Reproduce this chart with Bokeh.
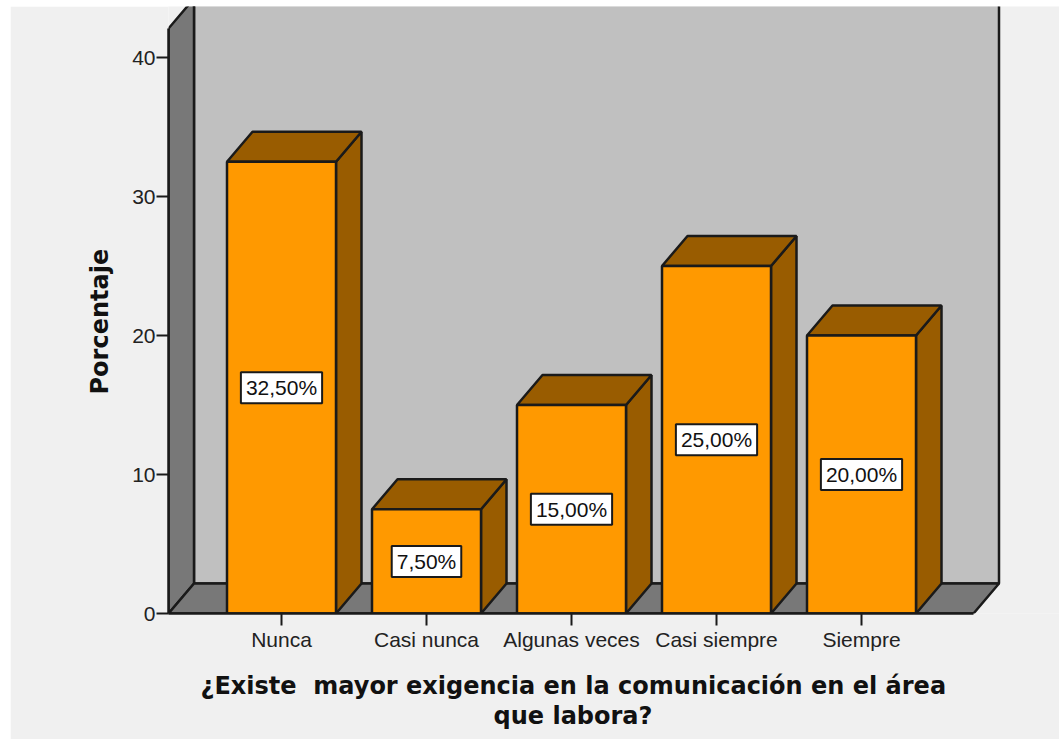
from bokeh.embed import file_html
from bokeh.resources import INLINE
from bokeh.plotting import figure
from bokeh.models import ColumnDataSource, FixedTicker, Range1d, Title
from bokeh.core.properties import value

categories = ["Nunca", "Casi nunca", "Algunas veces", "Casi siempre", "Siempre"]
percentages = [32.5, 7.5, 15.0, 25.0, 20.0]
y_ticks = [0, 10, 20, 30, 40]

FRONT = "#FF9900"
SHADE = "#995C00"
WALL = "#C0C0C0"
SIDE = "#787878"
BG = "#F0F0F0"
INK = "#1A1A1A"

PX_X = 145.0          # pixels per category
PX_Y = 13.9           # pixels per percentage point
DX = 25.5 / PX_X      # depth of the 3D effect
DY = 30.0 / PX_Y
BAR_W = 109.0 / PX_X
X0 = (168 - 281) / PX_X
X1 = (1059 - 281) / PX_X
AXIS_END = (973 - 281) / PX_X
Y_END = 607 / PX_Y
WALL_TOP = (613 - 28) / PX_Y
LW = 2.5

p = figure(width=1049, height=733, margin=(6, 0, 0, 10),
           output_backend="svg", toolbar_location=None,
           x_range=Range1d(X0, X1), y_range=Range1d(0, Y_END),
           min_border_left=158, min_border_bottom=126, min_border_top=0, min_border_right=0,
           background_fill_color=BG, border_fill_color=BG, outline_line_color=None)
p.grid.visible = False

# Walls and floor
p.patch([X0 + DX, AXIS_END + DX, AXIS_END + DX, X0 + DX], [DY, DY, WALL_TOP + 3, WALL_TOP + 3],
        fill_color=WALL, line_color=INK, line_width=LW)
p.patch([X0, X0 + DX, X0 + DX, X0], [0, DY, WALL_TOP + DY, WALL_TOP],
        fill_color=SIDE, line_color=INK, line_width=LW)
p.patch([X0, X0 + DX, AXIS_END + DX, AXIS_END], [0, DY, DY, 0],
        fill_color=SIDE, line_color=INK, line_width=LW)

# Bars
xs = list(range(len(categories)))
left = [x - BAR_W / 2 for x in xs]
right = [x + BAR_W / 2 for x in xs]
p.patches([[r, r + DX, r + DX, r] for r in right],
          [[0, DY, v + DY, v] for v in percentages],
          fill_color=SHADE, line_color=INK, line_width=LW)
p.patches([[l, l + DX, r + DX, r] for l, r in zip(left, right)],
          [[v, v + DY, v + DY, v] for v in percentages],
          fill_color=SHADE, line_color=INK, line_width=LW)
p.vbar(x=xs, top=percentages, bottom=0, width=BAR_W,
       fill_color=FRONT, line_color=INK, line_width=LW)

# Value labels
src = ColumnDataSource(dict(
    x=xs,
    y=[v / 2 for v in percentages],
    t=[f"{v:.2f}".replace(".", ",") + "%" for v in percentages],
))
p.text(x="x", y="y", text="t", source=src, text_align="center", text_baseline="middle",
       text_font=value("Liberation Sans"), text_font_size="21px", text_color="#111111",
       background_fill_color="white", border_line_color=INK, border_line_width=2, padding=(5, 4))

# Axes
ax = p.xaxis[0]
ax.ticker = FixedTicker(ticks=xs)
ax.major_label_overrides = {i: c for i, c in enumerate(categories)}
ax.bounds = (X0, AXIS_END)
ax.axis_line_color = INK
ax.axis_line_width = LW
ax.major_tick_line_color = INK
ax.major_tick_line_width = 2
ax.major_tick_out = 12
ax.major_tick_in = 0
ax.minor_tick_line_color = None
ax.major_label_text_font = "Liberation Sans"
ax.major_label_text_font_size = "21px"
ax.major_label_text_color = "#222222"
ax.major_label_standoff = 2
# A blank axis label holds the gap between the tick labels and the title below
ax.axis_label = " "
ax.axis_label_text_font_size = "7px"
ax.axis_label_standoff = 6

ay = p.yaxis[0]
ay.ticker = FixedTicker(ticks=y_ticks)
ay.bounds = (0, WALL_TOP)
ay.axis_line_color = INK
ay.axis_line_width = LW
ay.major_tick_line_color = INK
ay.major_tick_line_width = 2
ay.major_tick_out = 12
ay.major_tick_in = 0
ay.minor_tick_line_color = None
ay.major_label_text_font = "Liberation Sans"
ay.major_label_text_font_size = "21px"
ay.major_label_text_color = "#222222"
ay.major_label_standoff = 1

# Axis titles: placed by offset because the reference does not centre them on the plot area
title_style = dict(align="left", text_font="DejaVu Sans", text_font_style="bold",
                   text_font_size="24px", text_color="#111111")
p.add_layout(Title(text="Porcentaje", offset=219, standoff=32, **title_style), "left")
p.add_layout(Title(text="¿Existe \u00a0mayor exigencia en la comunicación en el área",
                   offset=32, standoff=0, **title_style), "below")
p.add_layout(Title(text="que labora?", offset=325, standoff=0, **title_style), "below")

open("out.html", "w").write(file_html(p, INLINE))
